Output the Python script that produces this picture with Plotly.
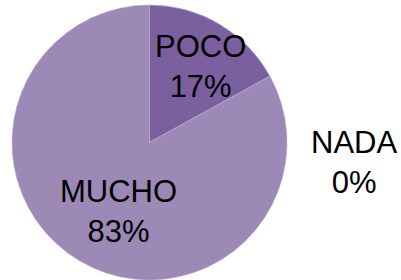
import plotly.graph_objects as go

labels = ["POCO", "NADA", "MUCHO"]
values = [17, 0, 83]
colors = ["#7B5F9F", "#8E7AAE", "#9C89B5"]

# label positions (paper coords) for each category's text
label_x = [0.50, 0.884, 0.296]
label_y = [1 - 66 / 280, 1 - 162 / 280, 1 - 211 / 280]

total = sum(values)
fig = go.Figure(go.Pie(
    labels=labels,
    values=values,
    sort=False,
    direction="clockwise",
    rotation=0,
    marker=dict(colors=colors, line=dict(color="#B9ACCD", width=0.6)),
    textinfo="none",
    hoverinfo="skip",
    showlegend=False,
    domain=dict(x=[12 / 401, 287 / 401], y=[0, 1 - 5 / 280]),
))

for lab, v, x, y in zip(labels, values, label_x, label_y):
    fig.add_annotation(
        x=x, y=y, xref="paper", yref="paper",
        text=f"{lab}<br>{round(100 * v / total)}%",
        showarrow=False, xanchor="center", yanchor="middle",
        font=dict(family="Liberation Sans, Arial", size=31, color="#000000"),
    )

fig.update_layout(
    width=401, height=280,
    margin=dict(l=0, r=0, t=0, b=0),
    paper_bgcolor="white", plot_bgcolor="white",
)
fig.write_html("out.html", config={"displayModeBar": False},
               post_script="document.body.style.margin='0';")
